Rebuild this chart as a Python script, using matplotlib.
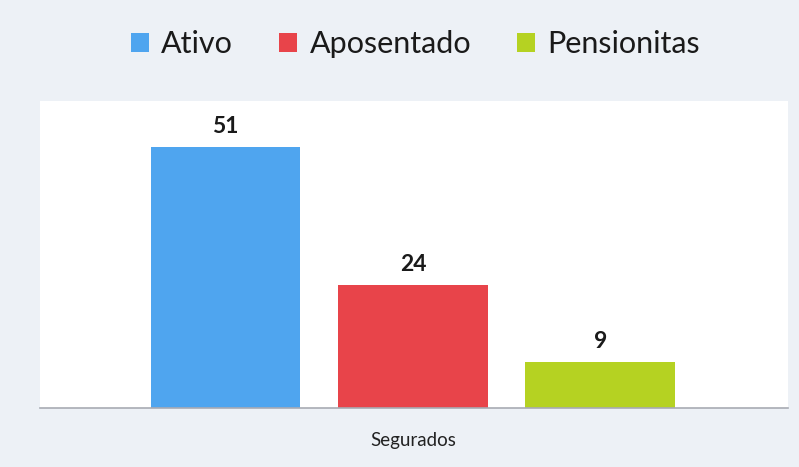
import matplotlib.pyplot as plt
from matplotlib.patches import Patch

# dados
categorias = ['Ativo', 'Aposentado', 'Pensionitas']
valores = [51, 24, 9]
cores = ['#4fa5ef', '#e8444a', '#b5d222']
rotulo_x = 'Segurados'

plt.rcParams['font.family'] = ['Lato', 'DejaVu Sans']

fig = plt.figure(figsize=(7.99, 4.67), dpi=100)
fig.patch.set_facecolor('#edf1f6')
ax = fig.add_axes([0.050, 0.126, 0.936, 0.658])
ax.set_facecolor('white')

pos = list(range(len(valores)))
barras = ax.bar(pos, valores, width=0.8, color=cores, zorder=2)
for b, v in zip(barras, valores):
    ax.text(b.get_x() + b.get_width() / 2, v + 2.0, str(v), ha='center', va='bottom',
            fontsize=16.5, fontweight='bold', color='#1a1a1a')

ax.set_xlim(-0.99, 3.0)
ax.set_ylim(0, 60)
ax.set_yticks([])
ax.set_xticks([1])
ax.set_xticklabels([rotulo_x], fontsize=13.5, color='#222222')
ax.tick_params(axis='x', length=0, pad=17)
for s in ['top', 'right', 'left']:
    ax.spines[s].set_visible(False)
ax.spines['bottom'].set_color('#a8abb3')
ax.spines['bottom'].set_linewidth(1.2)

handles = [Patch(facecolor=c, edgecolor='none') for c in cores]
fig.legend(handles, categorias, loc='center', bbox_to_anchor=(0.52, 0.905), ncol=3,
           frameon=False, fontsize=22, handlelength=0.6, handleheight=0.6,
           handletextpad=0.4, columnspacing=1.5, labelcolor='#1a1a1a')

fig.savefig('out.png', dpi=100, facecolor=fig.get_facecolor())
